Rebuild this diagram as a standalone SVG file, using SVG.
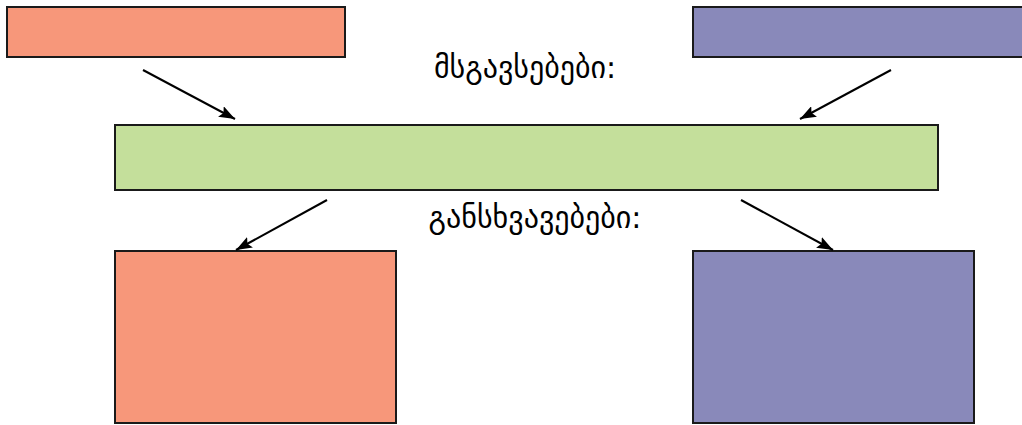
<svg xmlns="http://www.w3.org/2000/svg" width="1022" height="425" viewBox="0 0 1022 425">
<defs>
<style>
.box{stroke:#1a1a1a;stroke-width:2}
.s{fill:#F7977A}.p{fill:#8989BA}.g{fill:#C4DF9B}
.c{stroke:#000;stroke-width:2;fill:none;marker-end:url(#ah)}
.t{font-family:"DejaVu Sans",sans-serif;font-size:30px;fill:#000;text-anchor:middle}
</style>
<marker id="ah" viewBox="0 0 16 12" refX="16" refY="6" markerWidth="16" markerHeight="12" markerUnits="userSpaceOnUse" orient="auto"><path d="M0,0 L16,6 L0,12 L3,6 Z" fill="#000"/></marker>
</defs>
<g id="node-top-left"><rect class="box s" x="7" y="7" width="338" height="50"/></g>
<g id="node-top-right"><rect class="box p" x="693" y="7" width="340" height="50"/></g>
<g id="node-middle"><rect class="box g" x="115" y="125" width="823" height="65"/></g>
<g id="node-bottom-left"><rect class="box s" x="115" y="251" width="281" height="172"/></g>
<g id="node-bottom-right"><rect class="box p" x="693" y="251" width="281" height="172"/></g>
<g id="label-similarities"><text class="t" x="525" y="78">მსგავსებები:</text></g>
<g id="label-differences"><text class="t" x="535" y="228">განსხვავებები:</text></g>
<g id="connectors">
<line class="c" x1="143" y1="70" x2="235" y2="119"/>
<line class="c" x1="891" y1="70" x2="800" y2="119"/>
<line class="c" x1="327" y1="200" x2="236" y2="250"/>
<line class="c" x1="741" y1="200" x2="833" y2="250"/>
</g>
</svg>
